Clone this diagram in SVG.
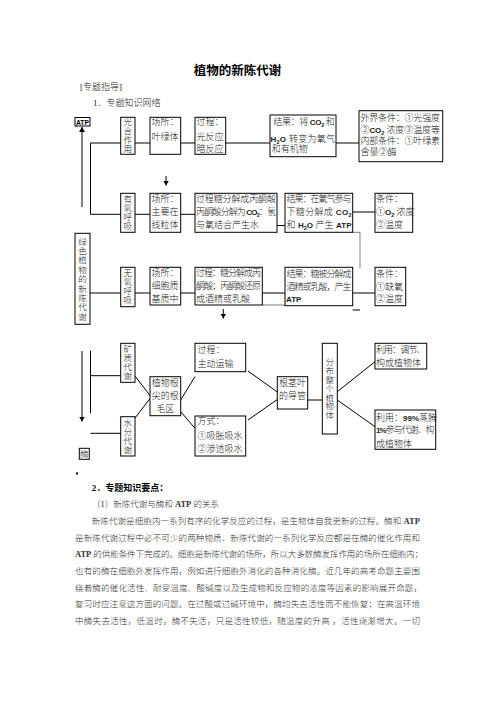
<svg xmlns="http://www.w3.org/2000/svg" width="496" height="702" viewBox="0 0 496 702">
<defs>
<marker id="ah" markerWidth="5" markerHeight="6" refX="5" refY="3" orient="auto" markerUnits="userSpaceOnUse"><path d="M0,0 L5,3 L0,6 z" fill="#000"/></marker>
<style>
.bx{fill:#fff;stroke:#000;stroke-width:1}
.t{font-family:'Liberation Serif','Noto Sans CJK SC',serif;font-size:9px;fill:#222;font-weight:300}
.v{font-family:'Noto Sans CJK SC',sans-serif;font-size:8.5px;fill:#222;font-weight:300;text-anchor:middle;writing-mode:vertical-rl;letter-spacing:0.5px}
.v1{font-family:'Noto Sans CJK SC',sans-serif;font-size:8.5px;fill:#222;font-weight:300;text-anchor:middle}
.s{font-family:'Liberation Sans',Arial,sans-serif;font-weight:bold;font-size:8px}
.sb{font-size:5.5px}
.m{text-anchor:middle}
.c{fill:none;stroke:#000;stroke-width:1}
.g{fill:none;stroke:#808080;stroke-width:1}
.p{font-family:'Liberation Serif','Noto Sans CJK SC',serif;font-size:8.5px;fill:#333;font-weight:300}
</style>
</defs>
<rect width="496" height="702" fill="#fff"/>

<g id="header">
<text x="237.5" y="74.5" text-anchor="middle" font-family="'Noto Sans CJK SC',sans-serif" font-size="12.5" font-weight="bold" fill="#000">植物的新陈代谢</text>
<text class="t" x="80" y="90">[专题指导]</text>
<text class="t" x="93" y="106">1．专题知识网络</text>
</g>

<g id="connectors">
<path class="c" d="M82,207 V127" marker-end="url(#ah)"/>
<path class="c" d="M82,351 V421.5" marker-end="url(#ah)"/>
<path class="c" d="M120.7,143 H90.5 V214.3 H120.7"/>
<path class="c" d="M135,143 H150 M180.7,143 H195 M225.7,143 H270 M336,143 H359"/>
<path class="c" d="M135,214.3 H150 M180.7,214.3 H195 M277,225.5 H285 M352.7,212 H375"/>
<path class="g" d="M352.7,232.3 H360 V268"/>
<path class="c" d="M90,293 H120.7 M135,293 H150 M180.7,293 H195 M262.3,293 H285 M352.7,293 H375"/>
<path class="g" d="M262.3,305 H285"/>
<path class="c" d="M352.7,310 H360"/>
<path class="c" d="M223.3,309 V318.5" marker-end="url(#ah)"/>
<path class="c" d="M166,176 V185.5" marker-end="url(#ah)"/>
<path class="c" d="M90.5,350.7 V413.3 M90.5,375.7 H120.7 M90.5,433.3 H120.7"/>
<path class="c" d="M135,376 L150,395.5 M135,418 L150,398.5 M180.7,400 L195,376.5 M180.7,411.7 L195,428.3 M248,371 L277.3,392 M248,420 L277.3,399.5 M307.7,400 H322.3 M337.3,391.7 L375,361.7 M337.3,400 L375,426.7"/>
</g>

<g id="n-atp"><rect class="bx" x="75" y="117.5" width="15" height="8.5"/><text class="s m" x="82.5" y="124.6" font-size="7" textLength="13" lengthAdjust="spacingAndGlyphs">ATP</text></g>

<g id="n-gh"><rect class="bx" x="120.7" y="117.3" width="14.3" height="37"/>
<text class="v" x="127.85" y="135.5">光合作用</text></g>

<g id="n-cs1"><rect class="bx" x="150" y="117.3" width="30.7" height="37"/>
<text class="t" x="151.5" y="125">场所：</text><text class="t" x="151.5" y="139.5">叶绿体</text></g>

<g id="n-gc1"><rect class="bx" x="195" y="117.3" width="30.7" height="37"/>
<text class="t" x="196.5" y="125">过程：</text><text class="t" x="196.5" y="139.5">光反应</text><text class="t" x="196.5" y="151.5">暗反应</text></g>

<g id="n-jg1"><rect class="bx" x="270" y="115" width="66" height="41.7"/>
<text class="t" x="273.3" y="125" textLength="61.5">结果：将 <tspan class="s">CO</tspan><tspan class="s sb" dy="2">2</tspan><tspan dy="-2"> 和</tspan></text>
<text class="t" x="270.5" y="141.5" textLength="64.5"><tspan class="s">H</tspan><tspan class="s sb" dy="2">2</tspan><tspan class="s" dy="-2">O</tspan> 转变为氧气</text>
<text class="t" x="271.7" y="151.8">和有机物</text></g>

<g id="n-wj"><rect class="bx" x="359" y="110.7" width="83.7" height="51"/>
<text class="t" x="360.5" y="121" textLength="79.5">外界条件：①光强度</text>
<text class="t" x="360.5" y="132.5" textLength="79.5">②<tspan class="s">CO</tspan><tspan class="s sb" dy="2">2</tspan><tspan dy="-2"> 浓度③温度等</tspan></text>
<text class="t" x="360.5" y="144" textLength="79.5">内部条件：①叶绿素</text>
<text class="t" x="360.5" y="155">含量②酶</text></g>

<g id="n-yy"><rect class="bx" x="120.7" y="193.3" width="14.3" height="39"/>
<text class="v" x="127.85" y="212.2">有氧呼吸</text></g>

<g id="n-cs2"><rect class="bx" x="150" y="193.3" width="30.7" height="39"/>
<text class="t" x="151.5" y="201.5">场所：</text><text class="t" x="151.5" y="214.8">主要在</text><text class="t" x="151.5" y="228.1">线粒体</text></g>

<g id="n-gc2"><rect class="bx" x="195" y="193.3" width="82" height="39"/>
<text class="t" x="196" y="201.5" textLength="80">过程糖分解成丙酮酸</text>
<text class="t" x="196" y="214.8" textLength="80">丙酮酸分解为 <tspan class="s">CO</tspan><tspan class="s sb" dy="2">2</tspan><tspan dy="-2">：氢</tspan></text>
<text class="t" x="196" y="228.1">与氧结合产生水</text></g>

<g id="n-jg2"><rect class="bx" x="285" y="193.3" width="67.7" height="39"/>
<text class="t" x="286.5" y="201.5" textLength="65">结果：在氧气参与</text>
<text class="t" x="286.5" y="214.8" textLength="65">下糖分解成 <tspan class="s">CO</tspan><tspan class="s sb" dy="2">2</tspan></text>
<text class="t" x="286.5" y="228.1" textLength="65">和 <tspan class="s">H</tspan><tspan class="s sb" dy="2">2</tspan><tspan class="s" dy="-2">O</tspan> 产生 <tspan class="s">ATP</tspan></text></g>

<g id="n-tj2"><rect class="bx" x="375" y="193.3" width="37.7" height="39"/>
<text class="t" x="376" y="201.5">条件：</text>
<text class="t" x="376" y="214.8">①<tspan class="s">O</tspan><tspan class="s sb" dy="2">2</tspan><tspan dy="-2"> 浓度</tspan></text>
<text class="t" x="376" y="228.1">②温度</text></g>

<g id="n-lv"><rect class="bx" x="75" y="233.3" width="15" height="91"/>
<text class="v" x="82.5" y="279.4" style="letter-spacing:0.875px">绿色植物的新陈代谢</text></g>

<g id="n-wy"><rect class="bx" x="120.7" y="267.3" width="14.3" height="39.4"/>
<text class="v" x="127.85" y="287">无氧呼吸</text></g>

<g id="n-cs3"><rect class="bx" x="150" y="267.3" width="30.7" height="37.7"/>
<text class="t" x="151.5" y="275.5">场所：</text><text class="t" x="151.5" y="289">细胞质</text><text class="t" x="151.5" y="302.2">基质中</text></g>

<g id="n-gc3"><rect class="bx" x="195" y="267.3" width="67.3" height="37.7"/>
<text class="t" x="196" y="275.5" textLength="65">过程：糖分解成丙</text>
<text class="t" x="196" y="289" textLength="65">酮酸；丙酮酸还原</text>
<text class="t" x="196" y="302.2">成酒精或乳酸</text></g>

<g id="n-jg3"><rect class="bx" x="285" y="267.3" width="67.7" height="38.4"/>
<text class="t" x="286.5" y="276.5" textLength="65">结果：糖被分解成</text>
<text class="t" x="286.5" y="289.9" textLength="65">酒精或乳酸，产生</text>
<text class="t" x="286" y="301.5"><tspan class="s">ATP</tspan></text></g>

<g id="n-tj3"><rect class="bx" x="375" y="267.3" width="30.7" height="38.4"/>
<text class="t" x="376" y="276.5">条件：</text><text class="t" x="376" y="289.9">①缺氧</text><text class="t" x="376" y="301.5">②温度</text></g>

<g id="n-kz"><rect class="bx" x="120.7" y="343.3" width="14.3" height="39"/>
<text class="v" x="127.85" y="362.5">矿质代谢</text></g>

<g id="n-sf"><rect class="bx" x="120.7" y="416.7" width="14.3" height="39.3"/>
<text class="v" x="127.85" y="436.2">水分代谢</text></g>

<g id="n-mei"><rect class="bx" x="79.3" y="448.3" width="10" height="11"/>
<text class="v1" x="84.3" y="457">酶</text></g>

<g id="n-gm"><rect class="bx" x="150" y="376.7" width="30.7" height="39"/>
<text class="t m" x="165.35" y="385.8">植物根</text><text class="t m" x="165.35" y="398.6">尖的根</text><text class="t m" x="165.35" y="412">毛区</text></g>

<g id="n-gc4"><rect class="bx" x="195" y="343.3" width="50.7" height="28.4"/>
<text class="t" x="197.5" y="353.2">过程：</text><text class="t" x="197.5" y="366.5">主动运输</text></g>

<g id="n-fs"><rect class="bx" x="195" y="416" width="50.7" height="40"/>
<text class="t" x="197.5" y="424">方式：</text><text class="t" x="197.5" y="439.2">①吸胀吸水</text><text class="t" x="197.5" y="451.5">②渗透吸水</text></g>

<g id="n-dg"><rect class="bx" x="277.3" y="376.7" width="30.4" height="32.3"/>
<text class="t m" x="292.5" y="386">根茎叶</text><text class="t m" x="292.5" y="399.3">的导管</text></g>

<g id="n-fb"><rect class="bx" x="322.3" y="343.3" width="15" height="90.7"/>
<text class="v" x="329.8" y="388.6" style="letter-spacing:0.4px">分布整个植物体</text></g>

<g id="n-ly1"><rect class="bx" x="375" y="343.3" width="51.7" height="25.7"/>
<text class="t" x="376" y="353.2" textLength="49.5">利用：调节、</text><text class="t" x="376" y="366">构成植物体</text></g>

<g id="n-ly2"><rect class="bx" x="375" y="410" width="60.7" height="39.3"/>
<text class="t" x="376" y="420.9" font-size="8.3">利用：<tspan class="s" font-size="7">99%</tspan>蒸腾</text>
<text class="t" x="376" y="433.2" font-size="8.3" textLength="58.5"><tspan class="s" font-size="7">1%</tspan>参与代谢、构</text>
<text class="t" x="376" y="446.5" font-size="8.3">成植物体</text></g>

<g id="body">
<rect x="76" y="472.5" width="2" height="2" fill="#000"/>
<text x="91.7" y="491" font-family="'Liberation Serif','Noto Sans CJK SC',serif" font-size="9" font-weight="bold" fill="#000">2．专题知识要点：</text>
<text class="p" x="92" y="507">（1）新陈代谢与酶和 <tspan font-weight="bold">ATP</tspan> 的关系</text>
<text class="p" x="91.7" y="524" textLength="328.3">新陈代谢是细胞内一系列有序的化学反应的过程，是生物体自我更新的过程。酶和 <tspan font-weight="bold">ATP</tspan></text>
<text class="p" x="75" y="540.7" textLength="345">是新陈代谢过程中必不可少的两种物质．新陈代谢的一系列化学反应都是在酶的催化作用和</text>
<text class="p" x="75" y="557.3" textLength="348"><tspan font-weight="bold">ATP</tspan> 的供能条件下完成的。细胞是新陈代谢的场所，所以大多数酶发挥作用的场所在细胞内；</text>
<text class="p" x="75" y="574" textLength="345">也有的酶在细胞外发挥作用，例如进行细胞外消化的各种消化酶。近几年的高考命题主要围</text>
<text class="p" x="75" y="590.7" textLength="347">绕着酶的催化活性、耐受温度、酸碱度以及生成物和反应物的浓度等因素的影响展开命题，</text>
<text class="p" x="75" y="607.3" textLength="345">复习时应注意这方面的问题。在过酸或过碱环境中，酶均失去活性而不能恢复；在高温环境</text>
<text class="p" x="75" y="624" textLength="345">中酶失去活性，低温时，酶不失活，只是活性较低，随温度的升高 ，活性逐渐增大。一切</text>
</g>
</svg>
